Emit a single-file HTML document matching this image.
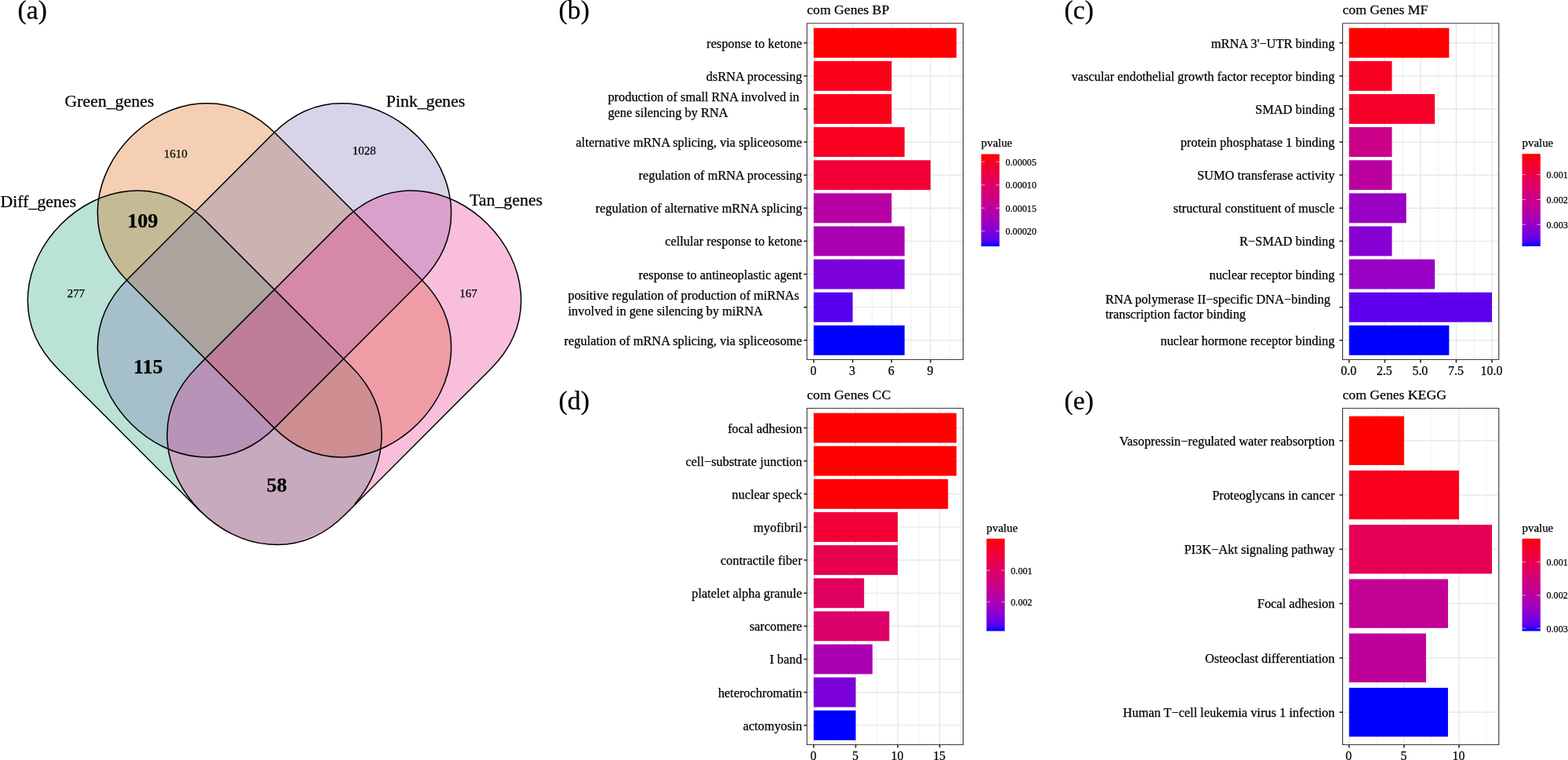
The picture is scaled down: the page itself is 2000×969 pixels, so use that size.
<!DOCTYPE html>
<html lang="en"><head><meta charset="utf-8"><title>Figure</title>
<style>
html,body{margin:0;padding:0;background:#fff;}
body{width:2000px;height:969px;overflow:hidden;}
svg{display:block;}
text{white-space:pre;stroke:#000;stroke-width:0.25px;}
</style></head><body>
<svg width="2000" height="969" viewBox="0 0 2000 969" font-family='"Liberation Serif", "DejaVu Serif", serif' stroke-linejoin="round">
<g>
<defs><clipPath id="cdf"><path d="M437.54 281.64 L251.74 467.44 C131.53 587.65 320.05 776.17 440.26 655.96 L626.06 470.16 C746.27 349.95 557.75 161.43 437.54 281.64 Z"/><path d="M-10 -10H710V640H-10Z"/><path d="M-10 640H256V720H-10Z"/><path d="M452 640H710V720H452Z"/></clipPath>
<clipPath id="cds"><path d="M-10 -10H710V640H-10Z"/><path d="M-10 640H256V720H-10Z"/><path d="M452 640H710V720H452Z"/></clipPath></defs>
<g clip-path="url(#cdf)"><path d="M262.46 281.64 L448.26 467.44 C568.47 587.65 379.95 776.17 259.74 655.96 L73.94 470.16 C-46.27 349.95 142.25 161.43 262.46 281.64 Z" fill="#1B9E77" fill-opacity="0.3"/></g>
<path d="M351.56 170.24 L536.96 355.84 C657.17 476.05 468.65 664.57 348.44 544.36 L163.04 358.76 C42.83 238.55 231.35 50.03 351.56 170.24 Z" fill="#D95F02" fill-opacity="0.3"/>
<path d="M348.44 170.24 L163.04 355.84 C42.83 476.05 231.35 664.57 351.56 544.36 L536.96 358.76 C657.17 238.55 468.65 50.03 348.44 170.24 Z" fill="#7570B3" fill-opacity="0.3"/>
<path d="M437.54 281.64 L251.74 467.44 C131.53 587.65 320.05 776.17 440.26 655.96 L626.06 470.16 C746.27 349.95 557.75 161.43 437.54 281.64 Z" fill="#E7298A" fill-opacity="0.3"/>
<g clip-path="url(#cds)"><path d="M262.46 281.64 L448.26 467.44 C568.47 587.65 379.95 776.17 259.74 655.96 L73.94 470.16 C-46.27 349.95 142.25 161.43 262.46 281.64 Z" fill="none" stroke="#000" stroke-width="1.5"/></g>
<path d="M351.56 170.24 L536.96 355.84 C657.17 476.05 468.65 664.57 348.44 544.36 L163.04 358.76 C42.83 238.55 231.35 50.03 351.56 170.24 Z" fill="none" stroke="#000" stroke-width="1.5"/>
<path d="M348.44 170.24 L163.04 355.84 C42.83 476.05 231.35 664.57 351.56 544.36 L536.96 358.76 C657.17 238.55 468.65 50.03 348.44 170.24 Z" fill="none" stroke="#000" stroke-width="1.5"/>
<path d="M437.54 281.64 L251.74 467.44 C131.53 587.65 320.05 776.17 440.26 655.96 L626.06 470.16 C746.27 349.95 557.75 161.43 437.54 281.64 Z" fill="none" stroke="#000" stroke-width="1.5"/>
</g>
<text x="82.50" y="136.00" font-size="21.85" text-anchor="start" fill="#000">Green_genes</text>
<text x="0.50" y="264.00" font-size="21.85" text-anchor="start" fill="#000">Diff_genes</text>
<text x="492.50" y="135.60" font-size="21.85" text-anchor="start" fill="#000">Pink_genes</text>
<text x="599.00" y="262.40" font-size="21.85" text-anchor="start" fill="#000">Tan_genes</text>
<text x="224.00" y="200.60" font-size="15.00" text-anchor="middle" fill="#000">1610</text>
<text x="464.60" y="197.40" font-size="15.00" text-anchor="middle" fill="#000">1028</text>
<text x="97.00" y="379.00" font-size="15.00" text-anchor="middle" fill="#000">277</text>
<text x="597.60" y="378.60" font-size="15.00" text-anchor="middle" fill="#000">167</text>
<text x="182.00" y="290.00" font-size="26.00" text-anchor="middle" font-weight="bold" fill="#000">109</text>
<text x="189.00" y="476.00" font-size="26.00" text-anchor="middle" font-weight="bold" fill="#000">115</text>
<text x="353.00" y="627.00" font-size="26.00" text-anchor="middle" font-weight="bold" fill="#000">58</text>
<text x="22.40" y="24.30" font-size="33.80" text-anchor="start" fill="#000">(a)</text>
<text x="712.60" y="24.30" font-size="33.80" text-anchor="start" fill="#000">(b)</text>
<text x="1357.60" y="24.30" font-size="33.80" text-anchor="start" fill="#000">(c)</text>
<text x="712.60" y="522.00" font-size="33.80" text-anchor="start" fill="#000">(d)</text>
<text x="1357.60" y="522.00" font-size="33.80" text-anchor="start" fill="#000">(e)</text>
<rect x="1029.25" y="29.75" width="199.25" height="428.75" fill="#fff"/>
<line x1="1062.73" y1="29.75" x2="1062.73" y2="458.50" stroke="#EEEEEE" stroke-width="0.9"/>
<line x1="1112.40" y1="29.75" x2="1112.40" y2="458.50" stroke="#EEEEEE" stroke-width="0.9"/>
<line x1="1162.06" y1="29.75" x2="1162.06" y2="458.50" stroke="#EEEEEE" stroke-width="0.9"/>
<line x1="1211.72" y1="29.75" x2="1211.72" y2="458.50" stroke="#EEEEEE" stroke-width="0.9"/>
<line x1="1037.90" y1="29.75" x2="1037.90" y2="458.50" stroke="#E4E4E4" stroke-width="1.2"/>
<line x1="1087.56" y1="29.75" x2="1087.56" y2="458.50" stroke="#E4E4E4" stroke-width="1.2"/>
<line x1="1137.23" y1="29.75" x2="1137.23" y2="458.50" stroke="#E4E4E4" stroke-width="1.2"/>
<line x1="1186.89" y1="29.75" x2="1186.89" y2="458.50" stroke="#E4E4E4" stroke-width="1.2"/>
<line x1="1029.25" y1="54.70" x2="1228.50" y2="54.70" stroke="#E4E4E4" stroke-width="1.2"/>
<line x1="1029.25" y1="96.83" x2="1228.50" y2="96.83" stroke="#E4E4E4" stroke-width="1.2"/>
<line x1="1029.25" y1="138.96" x2="1228.50" y2="138.96" stroke="#E4E4E4" stroke-width="1.2"/>
<line x1="1029.25" y1="181.09" x2="1228.50" y2="181.09" stroke="#E4E4E4" stroke-width="1.2"/>
<line x1="1029.25" y1="223.22" x2="1228.50" y2="223.22" stroke="#E4E4E4" stroke-width="1.2"/>
<line x1="1029.25" y1="265.35" x2="1228.50" y2="265.35" stroke="#E4E4E4" stroke-width="1.2"/>
<line x1="1029.25" y1="307.48" x2="1228.50" y2="307.48" stroke="#E4E4E4" stroke-width="1.2"/>
<line x1="1029.25" y1="349.61" x2="1228.50" y2="349.61" stroke="#E4E4E4" stroke-width="1.2"/>
<line x1="1029.25" y1="391.74" x2="1228.50" y2="391.74" stroke="#E4E4E4" stroke-width="1.2"/>
<line x1="1029.25" y1="433.87" x2="1228.50" y2="433.87" stroke="#E4E4E4" stroke-width="1.2"/>
<rect x="1037.90" y="35.74" width="182.10" height="37.92" fill="#FF0000"/>
<rect x="1037.90" y="77.87" width="99.33" height="37.92" fill="#FB001A"/>
<rect x="1037.90" y="120.00" width="99.33" height="37.92" fill="#FB001A"/>
<rect x="1037.90" y="162.13" width="115.88" height="37.92" fill="#F90021"/>
<rect x="1037.90" y="204.26" width="148.99" height="37.92" fill="#F20037"/>
<rect x="1037.90" y="246.39" width="99.33" height="37.92" fill="#B600A4"/>
<rect x="1037.90" y="288.52" width="115.88" height="37.92" fill="#AA00B2"/>
<rect x="1037.90" y="330.65" width="115.88" height="37.92" fill="#7C00DA"/>
<rect x="1037.90" y="372.78" width="49.66" height="37.92" fill="#5800EE"/>
<rect x="1037.90" y="414.91" width="115.88" height="37.92" fill="#0000FF"/>
<rect x="1029.25" y="29.75" width="199.25" height="428.75" fill="none" stroke="#3a3a3a" stroke-width="1.15"/>
<line x1="1037.90" y1="458.50" x2="1037.90" y2="462.50" stroke="#2a2a2a" stroke-width="1.6"/>
<text x="1037.40" y="477.50" font-size="15.90" text-anchor="middle" fill="#000">0</text>
<line x1="1087.56" y1="458.50" x2="1087.56" y2="462.50" stroke="#2a2a2a" stroke-width="1.6"/>
<text x="1087.06" y="477.50" font-size="15.90" text-anchor="middle" fill="#000">3</text>
<line x1="1137.23" y1="458.50" x2="1137.23" y2="462.50" stroke="#2a2a2a" stroke-width="1.6"/>
<text x="1136.73" y="477.50" font-size="15.90" text-anchor="middle" fill="#000">6</text>
<line x1="1186.89" y1="458.50" x2="1186.89" y2="462.50" stroke="#2a2a2a" stroke-width="1.6"/>
<text x="1186.39" y="477.50" font-size="15.90" text-anchor="middle" fill="#000">9</text>
<line x1="1025.25" y1="54.70" x2="1029.25" y2="54.70" stroke="#2a2a2a" stroke-width="1.6"/>
<text x="1023.10" y="60.60" font-size="16.38" text-anchor="end" fill="#000">response to ketone</text>
<line x1="1025.25" y1="96.83" x2="1029.25" y2="96.83" stroke="#2a2a2a" stroke-width="1.6"/>
<text x="1023.10" y="102.73" font-size="16.38" text-anchor="end" fill="#000">dsRNA processing</text>
<line x1="1025.25" y1="138.96" x2="1029.25" y2="138.96" stroke="#2a2a2a" stroke-width="1.6"/>
<text x="775.40" y="129.31" font-size="16.38" text-anchor="start" fill="#000">production of small RNA involved in</text>
<text x="775.40" y="148.81" font-size="16.38" text-anchor="start" fill="#000">gene silencing by RNA</text>
<line x1="1025.25" y1="181.09" x2="1029.25" y2="181.09" stroke="#2a2a2a" stroke-width="1.6"/>
<text x="1023.10" y="186.99" font-size="16.38" text-anchor="end" fill="#000">alternative mRNA splicing, via spliceosome</text>
<line x1="1025.25" y1="223.22" x2="1029.25" y2="223.22" stroke="#2a2a2a" stroke-width="1.6"/>
<text x="1023.10" y="229.12" font-size="16.38" text-anchor="end" fill="#000">regulation of mRNA processing</text>
<line x1="1025.25" y1="265.35" x2="1029.25" y2="265.35" stroke="#2a2a2a" stroke-width="1.6"/>
<text x="1023.10" y="271.25" font-size="16.38" text-anchor="end" fill="#000">regulation of alternative mRNA splicing</text>
<line x1="1025.25" y1="307.48" x2="1029.25" y2="307.48" stroke="#2a2a2a" stroke-width="1.6"/>
<text x="1023.10" y="313.38" font-size="16.38" text-anchor="end" fill="#000">cellular response to ketone</text>
<line x1="1025.25" y1="349.61" x2="1029.25" y2="349.61" stroke="#2a2a2a" stroke-width="1.6"/>
<text x="1023.10" y="355.51" font-size="16.38" text-anchor="end" fill="#000">response to antineoplastic agent</text>
<line x1="1025.25" y1="391.74" x2="1029.25" y2="391.74" stroke="#2a2a2a" stroke-width="1.6"/>
<text x="724.50" y="382.09" font-size="16.38" text-anchor="start" fill="#000">positive regulation of production of miRNAs</text>
<text x="724.50" y="401.59" font-size="16.38" text-anchor="start" fill="#000">involved in gene silencing by miRNA</text>
<line x1="1025.25" y1="433.87" x2="1029.25" y2="433.87" stroke="#2a2a2a" stroke-width="1.6"/>
<text x="1023.10" y="439.77" font-size="16.38" text-anchor="end" fill="#000">regulation of mRNA splicing, via spliceosome</text>
<text x="1029.25" y="17.85" font-size="17.67" text-anchor="start" fill="#000">com Genes BP</text>
<defs><linearGradient id="gb" x1="0" y1="0" x2="0" y2="1"><stop offset="0.000" stop-color="#FF0000"/><stop offset="0.050" stop-color="#FB001A"/><stop offset="0.100" stop-color="#F6002A"/><stop offset="0.150" stop-color="#F20037"/><stop offset="0.200" stop-color="#ED0044"/><stop offset="0.250" stop-color="#E80050"/><stop offset="0.300" stop-color="#E3005B"/><stop offset="0.350" stop-color="#DD0066"/><stop offset="0.400" stop-color="#D70072"/><stop offset="0.450" stop-color="#D1007D"/><stop offset="0.500" stop-color="#CA0088"/><stop offset="0.550" stop-color="#C20094"/><stop offset="0.600" stop-color="#BA009F"/><stop offset="0.650" stop-color="#B000AB"/><stop offset="0.700" stop-color="#A600B7"/><stop offset="0.750" stop-color="#9A00C3"/><stop offset="0.800" stop-color="#8D00CE"/><stop offset="0.850" stop-color="#7C00DA"/><stop offset="0.900" stop-color="#6800E7"/><stop offset="0.950" stop-color="#4B00F3"/><stop offset="1.000" stop-color="#0000FF"/></linearGradient></defs>
<rect x="1251.50" y="196.50" width="23.30" height="117.60" fill="url(#gb)"/>
<text x="1251.50" y="187.20" font-size="14.90" text-anchor="start" fill="#000">pvalue</text>
<line x1="1251.50" y1="206.20" x2="1256.16" y2="206.20" stroke="#fff" stroke-width="0.6"/>
<line x1="1270.14" y1="206.20" x2="1274.80" y2="206.20" stroke="#fff" stroke-width="0.6"/>
<text x="1282.50" y="210.60" font-size="12.15" text-anchor="start" fill="#000">0.00005</text>
<line x1="1251.50" y1="235.80" x2="1256.16" y2="235.80" stroke="#fff" stroke-width="0.6"/>
<line x1="1270.14" y1="235.80" x2="1274.80" y2="235.80" stroke="#fff" stroke-width="0.6"/>
<text x="1282.50" y="240.20" font-size="12.15" text-anchor="start" fill="#000">0.00010</text>
<line x1="1251.50" y1="265.20" x2="1256.16" y2="265.20" stroke="#fff" stroke-width="0.6"/>
<line x1="1270.14" y1="265.20" x2="1274.80" y2="265.20" stroke="#fff" stroke-width="0.6"/>
<text x="1282.50" y="269.60" font-size="12.15" text-anchor="start" fill="#000">0.00015</text>
<line x1="1251.50" y1="294.60" x2="1256.16" y2="294.60" stroke="#fff" stroke-width="0.6"/>
<line x1="1270.14" y1="294.60" x2="1274.80" y2="294.60" stroke="#fff" stroke-width="0.6"/>
<text x="1282.50" y="299.00" font-size="12.15" text-anchor="start" fill="#000">0.00020</text>
<rect x="1712.50" y="29.75" width="199.25" height="428.75" fill="#fff"/>
<line x1="1743.58" y1="29.75" x2="1743.58" y2="458.50" stroke="#EEEEEE" stroke-width="0.9"/>
<line x1="1789.12" y1="29.75" x2="1789.12" y2="458.50" stroke="#EEEEEE" stroke-width="0.9"/>
<line x1="1834.67" y1="29.75" x2="1834.67" y2="458.50" stroke="#EEEEEE" stroke-width="0.9"/>
<line x1="1880.22" y1="29.75" x2="1880.22" y2="458.50" stroke="#EEEEEE" stroke-width="0.9"/>
<line x1="1720.80" y1="29.75" x2="1720.80" y2="458.50" stroke="#E4E4E4" stroke-width="1.2"/>
<line x1="1766.35" y1="29.75" x2="1766.35" y2="458.50" stroke="#E4E4E4" stroke-width="1.2"/>
<line x1="1811.90" y1="29.75" x2="1811.90" y2="458.50" stroke="#E4E4E4" stroke-width="1.2"/>
<line x1="1857.45" y1="29.75" x2="1857.45" y2="458.50" stroke="#E4E4E4" stroke-width="1.2"/>
<line x1="1903.00" y1="29.75" x2="1903.00" y2="458.50" stroke="#E4E4E4" stroke-width="1.2"/>
<line x1="1712.50" y1="54.70" x2="1911.75" y2="54.70" stroke="#E4E4E4" stroke-width="1.2"/>
<line x1="1712.50" y1="96.83" x2="1911.75" y2="96.83" stroke="#E4E4E4" stroke-width="1.2"/>
<line x1="1712.50" y1="138.96" x2="1911.75" y2="138.96" stroke="#E4E4E4" stroke-width="1.2"/>
<line x1="1712.50" y1="181.09" x2="1911.75" y2="181.09" stroke="#E4E4E4" stroke-width="1.2"/>
<line x1="1712.50" y1="223.22" x2="1911.75" y2="223.22" stroke="#E4E4E4" stroke-width="1.2"/>
<line x1="1712.50" y1="265.35" x2="1911.75" y2="265.35" stroke="#E4E4E4" stroke-width="1.2"/>
<line x1="1712.50" y1="307.48" x2="1911.75" y2="307.48" stroke="#E4E4E4" stroke-width="1.2"/>
<line x1="1712.50" y1="349.61" x2="1911.75" y2="349.61" stroke="#E4E4E4" stroke-width="1.2"/>
<line x1="1712.50" y1="391.74" x2="1911.75" y2="391.74" stroke="#E4E4E4" stroke-width="1.2"/>
<line x1="1712.50" y1="433.87" x2="1911.75" y2="433.87" stroke="#E4E4E4" stroke-width="1.2"/>
<rect x="1720.80" y="35.74" width="127.54" height="37.92" fill="#FF0000"/>
<rect x="1720.80" y="77.87" width="54.66" height="37.92" fill="#F80024"/>
<rect x="1720.80" y="120.00" width="109.32" height="37.92" fill="#F6002A"/>
<rect x="1720.80" y="162.13" width="54.66" height="37.92" fill="#CA0088"/>
<rect x="1720.80" y="204.26" width="54.66" height="37.92" fill="#BA009F"/>
<rect x="1720.80" y="246.39" width="72.88" height="37.92" fill="#9A00C3"/>
<rect x="1720.80" y="288.52" width="54.66" height="37.92" fill="#8700D3"/>
<rect x="1720.80" y="330.65" width="109.32" height="37.92" fill="#9800C5"/>
<rect x="1720.80" y="372.78" width="182.20" height="37.92" fill="#5E00EB"/>
<rect x="1720.80" y="414.91" width="127.54" height="37.92" fill="#0000FF"/>
<rect x="1712.50" y="29.75" width="199.25" height="428.75" fill="none" stroke="#3a3a3a" stroke-width="1.15"/>
<line x1="1720.80" y1="458.50" x2="1720.80" y2="462.50" stroke="#2a2a2a" stroke-width="1.6"/>
<text x="1720.30" y="477.50" font-size="15.90" text-anchor="middle" fill="#000">0.0</text>
<line x1="1766.35" y1="458.50" x2="1766.35" y2="462.50" stroke="#2a2a2a" stroke-width="1.6"/>
<text x="1765.85" y="477.50" font-size="15.90" text-anchor="middle" fill="#000">2.5</text>
<line x1="1811.90" y1="458.50" x2="1811.90" y2="462.50" stroke="#2a2a2a" stroke-width="1.6"/>
<text x="1811.40" y="477.50" font-size="15.90" text-anchor="middle" fill="#000">5.0</text>
<line x1="1857.45" y1="458.50" x2="1857.45" y2="462.50" stroke="#2a2a2a" stroke-width="1.6"/>
<text x="1856.95" y="477.50" font-size="15.90" text-anchor="middle" fill="#000">7.5</text>
<line x1="1903.00" y1="458.50" x2="1903.00" y2="462.50" stroke="#2a2a2a" stroke-width="1.6"/>
<text x="1902.50" y="477.50" font-size="15.90" text-anchor="middle" fill="#000">10.0</text>
<line x1="1708.50" y1="54.70" x2="1712.50" y2="54.70" stroke="#2a2a2a" stroke-width="1.6"/>
<text x="1702.40" y="60.60" font-size="16.38" text-anchor="end" fill="#000">mRNA 3'−UTR binding</text>
<line x1="1708.50" y1="96.83" x2="1712.50" y2="96.83" stroke="#2a2a2a" stroke-width="1.6"/>
<text x="1702.40" y="102.73" font-size="16.38" text-anchor="end" fill="#000">vascular endothelial growth factor receptor binding</text>
<line x1="1708.50" y1="138.96" x2="1712.50" y2="138.96" stroke="#2a2a2a" stroke-width="1.6"/>
<text x="1702.40" y="144.86" font-size="16.38" text-anchor="end" fill="#000">SMAD binding</text>
<line x1="1708.50" y1="181.09" x2="1712.50" y2="181.09" stroke="#2a2a2a" stroke-width="1.6"/>
<text x="1702.40" y="186.99" font-size="16.38" text-anchor="end" fill="#000">protein phosphatase 1 binding</text>
<line x1="1708.50" y1="223.22" x2="1712.50" y2="223.22" stroke="#2a2a2a" stroke-width="1.6"/>
<text x="1702.40" y="229.12" font-size="16.38" text-anchor="end" fill="#000">SUMO transferase activity</text>
<line x1="1708.50" y1="265.35" x2="1712.50" y2="265.35" stroke="#2a2a2a" stroke-width="1.6"/>
<text x="1702.40" y="271.25" font-size="16.38" text-anchor="end" fill="#000">structural constituent of muscle</text>
<line x1="1708.50" y1="307.48" x2="1712.50" y2="307.48" stroke="#2a2a2a" stroke-width="1.6"/>
<text x="1702.40" y="313.38" font-size="16.38" text-anchor="end" fill="#000">R−SMAD binding</text>
<line x1="1708.50" y1="349.61" x2="1712.50" y2="349.61" stroke="#2a2a2a" stroke-width="1.6"/>
<text x="1702.40" y="355.51" font-size="16.38" text-anchor="end" fill="#000">nuclear receptor binding</text>
<line x1="1708.50" y1="391.74" x2="1712.50" y2="391.74" stroke="#2a2a2a" stroke-width="1.6"/>
<text x="1410.00" y="386.89" font-size="16.38" text-anchor="start" fill="#000">RNA polymerase II−specific DNA−binding</text>
<text x="1410.00" y="406.39" font-size="16.38" text-anchor="start" fill="#000">transcription factor binding</text>
<line x1="1708.50" y1="433.87" x2="1712.50" y2="433.87" stroke="#2a2a2a" stroke-width="1.6"/>
<text x="1702.40" y="439.77" font-size="16.38" text-anchor="end" fill="#000">nuclear hormone receptor binding</text>
<text x="1712.50" y="17.85" font-size="17.67" text-anchor="start" fill="#000">com Genes MF</text>
<defs><linearGradient id="gc" x1="0" y1="0" x2="0" y2="1"><stop offset="0.000" stop-color="#FF0000"/><stop offset="0.050" stop-color="#FB001A"/><stop offset="0.100" stop-color="#F6002A"/><stop offset="0.150" stop-color="#F20037"/><stop offset="0.200" stop-color="#ED0044"/><stop offset="0.250" stop-color="#E80050"/><stop offset="0.300" stop-color="#E3005B"/><stop offset="0.350" stop-color="#DD0066"/><stop offset="0.400" stop-color="#D70072"/><stop offset="0.450" stop-color="#D1007D"/><stop offset="0.500" stop-color="#CA0088"/><stop offset="0.550" stop-color="#C20094"/><stop offset="0.600" stop-color="#BA009F"/><stop offset="0.650" stop-color="#B000AB"/><stop offset="0.700" stop-color="#A600B7"/><stop offset="0.750" stop-color="#9A00C3"/><stop offset="0.800" stop-color="#8D00CE"/><stop offset="0.850" stop-color="#7C00DA"/><stop offset="0.900" stop-color="#6800E7"/><stop offset="0.950" stop-color="#4B00F3"/><stop offset="1.000" stop-color="#0000FF"/></linearGradient></defs>
<rect x="1941.50" y="196.20" width="23.30" height="117.80" fill="url(#gc)"/>
<text x="1941.50" y="186.90" font-size="14.90" text-anchor="start" fill="#000">pvalue</text>
<line x1="1941.50" y1="222.60" x2="1946.16" y2="222.60" stroke="#fff" stroke-width="0.6"/>
<line x1="1960.14" y1="222.60" x2="1964.80" y2="222.60" stroke="#fff" stroke-width="0.6"/>
<text x="1972.50" y="227.00" font-size="12.15" text-anchor="start" fill="#000">0.001</text>
<line x1="1941.50" y1="254.50" x2="1946.16" y2="254.50" stroke="#fff" stroke-width="0.6"/>
<line x1="1960.14" y1="254.50" x2="1964.80" y2="254.50" stroke="#fff" stroke-width="0.6"/>
<text x="1972.50" y="258.90" font-size="12.15" text-anchor="start" fill="#000">0.002</text>
<line x1="1941.50" y1="286.30" x2="1946.16" y2="286.30" stroke="#fff" stroke-width="0.6"/>
<line x1="1960.14" y1="286.30" x2="1964.80" y2="286.30" stroke="#fff" stroke-width="0.6"/>
<text x="1972.50" y="290.70" font-size="12.15" text-anchor="start" fill="#000">0.003</text>
<rect x="1029.25" y="520.50" width="199.25" height="429.00" fill="#fff"/>
<line x1="1064.68" y1="520.50" x2="1064.68" y2="949.50" stroke="#EEEEEE" stroke-width="0.9"/>
<line x1="1118.24" y1="520.50" x2="1118.24" y2="949.50" stroke="#EEEEEE" stroke-width="0.9"/>
<line x1="1171.80" y1="520.50" x2="1171.80" y2="949.50" stroke="#EEEEEE" stroke-width="0.9"/>
<line x1="1225.36" y1="520.50" x2="1225.36" y2="949.50" stroke="#EEEEEE" stroke-width="0.9"/>
<line x1="1037.90" y1="520.50" x2="1037.90" y2="949.50" stroke="#E4E4E4" stroke-width="1.2"/>
<line x1="1091.46" y1="520.50" x2="1091.46" y2="949.50" stroke="#E4E4E4" stroke-width="1.2"/>
<line x1="1145.02" y1="520.50" x2="1145.02" y2="949.50" stroke="#E4E4E4" stroke-width="1.2"/>
<line x1="1198.58" y1="520.50" x2="1198.58" y2="949.50" stroke="#E4E4E4" stroke-width="1.2"/>
<line x1="1029.25" y1="545.60" x2="1228.50" y2="545.60" stroke="#E4E4E4" stroke-width="1.2"/>
<line x1="1029.25" y1="587.73" x2="1228.50" y2="587.73" stroke="#E4E4E4" stroke-width="1.2"/>
<line x1="1029.25" y1="629.86" x2="1228.50" y2="629.86" stroke="#E4E4E4" stroke-width="1.2"/>
<line x1="1029.25" y1="671.99" x2="1228.50" y2="671.99" stroke="#E4E4E4" stroke-width="1.2"/>
<line x1="1029.25" y1="714.12" x2="1228.50" y2="714.12" stroke="#E4E4E4" stroke-width="1.2"/>
<line x1="1029.25" y1="756.25" x2="1228.50" y2="756.25" stroke="#E4E4E4" stroke-width="1.2"/>
<line x1="1029.25" y1="798.38" x2="1228.50" y2="798.38" stroke="#E4E4E4" stroke-width="1.2"/>
<line x1="1029.25" y1="840.51" x2="1228.50" y2="840.51" stroke="#E4E4E4" stroke-width="1.2"/>
<line x1="1029.25" y1="882.64" x2="1228.50" y2="882.64" stroke="#E4E4E4" stroke-width="1.2"/>
<line x1="1029.25" y1="924.77" x2="1228.50" y2="924.77" stroke="#E4E4E4" stroke-width="1.2"/>
<rect x="1037.90" y="526.64" width="182.10" height="37.92" fill="#FF0000"/>
<rect x="1037.90" y="568.77" width="182.10" height="37.92" fill="#FF0000"/>
<rect x="1037.90" y="610.90" width="171.39" height="37.92" fill="#FE0006"/>
<rect x="1037.90" y="653.03" width="107.12" height="37.92" fill="#F20037"/>
<rect x="1037.90" y="695.16" width="107.12" height="37.92" fill="#E80050"/>
<rect x="1037.90" y="737.29" width="64.27" height="37.92" fill="#E00060"/>
<rect x="1037.90" y="779.42" width="96.41" height="37.92" fill="#DC0069"/>
<rect x="1037.90" y="821.55" width="74.98" height="37.92" fill="#AA00B2"/>
<rect x="1037.90" y="863.68" width="53.56" height="37.92" fill="#7C00DA"/>
<rect x="1037.90" y="905.81" width="53.56" height="37.92" fill="#0000FF"/>
<rect x="1029.25" y="520.50" width="199.25" height="429.00" fill="none" stroke="#3a3a3a" stroke-width="1.15"/>
<line x1="1037.90" y1="949.50" x2="1037.90" y2="953.50" stroke="#2a2a2a" stroke-width="1.6"/>
<text x="1037.40" y="968.50" font-size="15.90" text-anchor="middle" fill="#000">0</text>
<line x1="1091.46" y1="949.50" x2="1091.46" y2="953.50" stroke="#2a2a2a" stroke-width="1.6"/>
<text x="1090.96" y="968.50" font-size="15.90" text-anchor="middle" fill="#000">5</text>
<line x1="1145.02" y1="949.50" x2="1145.02" y2="953.50" stroke="#2a2a2a" stroke-width="1.6"/>
<text x="1144.52" y="968.50" font-size="15.90" text-anchor="middle" fill="#000">10</text>
<line x1="1198.58" y1="949.50" x2="1198.58" y2="953.50" stroke="#2a2a2a" stroke-width="1.6"/>
<text x="1198.08" y="968.50" font-size="15.90" text-anchor="middle" fill="#000">15</text>
<line x1="1025.25" y1="545.60" x2="1029.25" y2="545.60" stroke="#2a2a2a" stroke-width="1.6"/>
<text x="1023.10" y="551.50" font-size="16.38" text-anchor="end" fill="#000">focal adhesion</text>
<line x1="1025.25" y1="587.73" x2="1029.25" y2="587.73" stroke="#2a2a2a" stroke-width="1.6"/>
<text x="1023.10" y="593.63" font-size="16.38" text-anchor="end" fill="#000">cell−substrate junction</text>
<line x1="1025.25" y1="629.86" x2="1029.25" y2="629.86" stroke="#2a2a2a" stroke-width="1.6"/>
<text x="1023.10" y="635.76" font-size="16.38" text-anchor="end" fill="#000">nuclear speck</text>
<line x1="1025.25" y1="671.99" x2="1029.25" y2="671.99" stroke="#2a2a2a" stroke-width="1.6"/>
<text x="1023.10" y="677.89" font-size="16.38" text-anchor="end" fill="#000">myofibril</text>
<line x1="1025.25" y1="714.12" x2="1029.25" y2="714.12" stroke="#2a2a2a" stroke-width="1.6"/>
<text x="1023.10" y="720.02" font-size="16.38" text-anchor="end" fill="#000">contractile fiber</text>
<line x1="1025.25" y1="756.25" x2="1029.25" y2="756.25" stroke="#2a2a2a" stroke-width="1.6"/>
<text x="1023.10" y="762.15" font-size="16.38" text-anchor="end" fill="#000">platelet alpha granule</text>
<line x1="1025.25" y1="798.38" x2="1029.25" y2="798.38" stroke="#2a2a2a" stroke-width="1.6"/>
<text x="1023.10" y="804.28" font-size="16.38" text-anchor="end" fill="#000">sarcomere</text>
<line x1="1025.25" y1="840.51" x2="1029.25" y2="840.51" stroke="#2a2a2a" stroke-width="1.6"/>
<text x="1023.10" y="846.41" font-size="16.38" text-anchor="end" fill="#000">I band</text>
<line x1="1025.25" y1="882.64" x2="1029.25" y2="882.64" stroke="#2a2a2a" stroke-width="1.6"/>
<text x="1023.10" y="888.54" font-size="16.38" text-anchor="end" fill="#000">heterochromatin</text>
<line x1="1025.25" y1="924.77" x2="1029.25" y2="924.77" stroke="#2a2a2a" stroke-width="1.6"/>
<text x="1023.10" y="930.67" font-size="16.38" text-anchor="end" fill="#000">actomyosin</text>
<text x="1029.25" y="508.60" font-size="17.67" text-anchor="start" fill="#000">com Genes CC</text>
<defs><linearGradient id="gd" x1="0" y1="0" x2="0" y2="1"><stop offset="0.000" stop-color="#FF0000"/><stop offset="0.050" stop-color="#FB001A"/><stop offset="0.100" stop-color="#F6002A"/><stop offset="0.150" stop-color="#F20037"/><stop offset="0.200" stop-color="#ED0044"/><stop offset="0.250" stop-color="#E80050"/><stop offset="0.300" stop-color="#E3005B"/><stop offset="0.350" stop-color="#DD0066"/><stop offset="0.400" stop-color="#D70072"/><stop offset="0.450" stop-color="#D1007D"/><stop offset="0.500" stop-color="#CA0088"/><stop offset="0.550" stop-color="#C20094"/><stop offset="0.600" stop-color="#BA009F"/><stop offset="0.650" stop-color="#B000AB"/><stop offset="0.700" stop-color="#A600B7"/><stop offset="0.750" stop-color="#9A00C3"/><stop offset="0.800" stop-color="#8D00CE"/><stop offset="0.850" stop-color="#7C00DA"/><stop offset="0.900" stop-color="#6800E7"/><stop offset="0.950" stop-color="#4B00F3"/><stop offset="1.000" stop-color="#0000FF"/></linearGradient></defs>
<rect x="1258.30" y="686.80" width="23.30" height="117.80" fill="url(#gd)"/>
<text x="1258.30" y="677.50" font-size="14.90" text-anchor="start" fill="#000">pvalue</text>
<line x1="1258.30" y1="727.20" x2="1262.96" y2="727.20" stroke="#fff" stroke-width="0.6"/>
<line x1="1276.94" y1="727.20" x2="1281.60" y2="727.20" stroke="#fff" stroke-width="0.6"/>
<text x="1289.30" y="731.60" font-size="12.15" text-anchor="start" fill="#000">0.001</text>
<line x1="1258.30" y1="767.20" x2="1262.96" y2="767.20" stroke="#fff" stroke-width="0.6"/>
<line x1="1276.94" y1="767.20" x2="1281.60" y2="767.20" stroke="#fff" stroke-width="0.6"/>
<text x="1289.30" y="771.60" font-size="12.15" text-anchor="start" fill="#000">0.002</text>
<rect x="1712.50" y="520.50" width="199.25" height="429.00" fill="#fff"/>
<line x1="1755.84" y1="520.50" x2="1755.84" y2="949.50" stroke="#EEEEEE" stroke-width="0.9"/>
<line x1="1825.92" y1="520.50" x2="1825.92" y2="949.50" stroke="#EEEEEE" stroke-width="0.9"/>
<line x1="1895.99" y1="520.50" x2="1895.99" y2="949.50" stroke="#EEEEEE" stroke-width="0.9"/>
<line x1="1720.80" y1="520.50" x2="1720.80" y2="949.50" stroke="#E4E4E4" stroke-width="1.2"/>
<line x1="1790.88" y1="520.50" x2="1790.88" y2="949.50" stroke="#E4E4E4" stroke-width="1.2"/>
<line x1="1860.95" y1="520.50" x2="1860.95" y2="949.50" stroke="#E4E4E4" stroke-width="1.2"/>
<line x1="1712.50" y1="561.80" x2="1911.75" y2="561.80" stroke="#E4E4E4" stroke-width="1.2"/>
<line x1="1712.50" y1="631.06" x2="1911.75" y2="631.06" stroke="#E4E4E4" stroke-width="1.2"/>
<line x1="1712.50" y1="700.32" x2="1911.75" y2="700.32" stroke="#E4E4E4" stroke-width="1.2"/>
<line x1="1712.50" y1="769.58" x2="1911.75" y2="769.58" stroke="#E4E4E4" stroke-width="1.2"/>
<line x1="1712.50" y1="838.84" x2="1911.75" y2="838.84" stroke="#E4E4E4" stroke-width="1.2"/>
<line x1="1712.50" y1="908.10" x2="1911.75" y2="908.10" stroke="#E4E4E4" stroke-width="1.2"/>
<rect x="1720.80" y="530.63" width="70.08" height="62.33" fill="#FF0000"/>
<rect x="1720.80" y="599.89" width="140.15" height="62.33" fill="#FA001E"/>
<rect x="1720.80" y="669.15" width="182.20" height="62.33" fill="#E50056"/>
<rect x="1720.80" y="738.41" width="126.14" height="62.33" fill="#C20094"/>
<rect x="1720.80" y="807.67" width="98.11" height="62.33" fill="#BD009B"/>
<rect x="1720.80" y="876.93" width="126.14" height="62.33" fill="#0000FF"/>
<rect x="1712.50" y="520.50" width="199.25" height="429.00" fill="none" stroke="#3a3a3a" stroke-width="1.15"/>
<line x1="1720.80" y1="949.50" x2="1720.80" y2="953.50" stroke="#2a2a2a" stroke-width="1.6"/>
<text x="1720.30" y="968.50" font-size="15.90" text-anchor="middle" fill="#000">0</text>
<line x1="1790.88" y1="949.50" x2="1790.88" y2="953.50" stroke="#2a2a2a" stroke-width="1.6"/>
<text x="1790.38" y="968.50" font-size="15.90" text-anchor="middle" fill="#000">5</text>
<line x1="1860.95" y1="949.50" x2="1860.95" y2="953.50" stroke="#2a2a2a" stroke-width="1.6"/>
<text x="1860.45" y="968.50" font-size="15.90" text-anchor="middle" fill="#000">10</text>
<line x1="1708.50" y1="561.80" x2="1712.50" y2="561.80" stroke="#2a2a2a" stroke-width="1.6"/>
<text x="1702.40" y="567.70" font-size="16.38" text-anchor="end" fill="#000">Vasopressin−regulated water reabsorption</text>
<line x1="1708.50" y1="631.06" x2="1712.50" y2="631.06" stroke="#2a2a2a" stroke-width="1.6"/>
<text x="1702.40" y="636.96" font-size="16.38" text-anchor="end" fill="#000">Proteoglycans in cancer</text>
<line x1="1708.50" y1="700.32" x2="1712.50" y2="700.32" stroke="#2a2a2a" stroke-width="1.6"/>
<text x="1702.40" y="706.22" font-size="16.38" text-anchor="end" fill="#000">PI3K−Akt signaling pathway</text>
<line x1="1708.50" y1="769.58" x2="1712.50" y2="769.58" stroke="#2a2a2a" stroke-width="1.6"/>
<text x="1702.40" y="775.48" font-size="16.38" text-anchor="end" fill="#000">Focal adhesion</text>
<line x1="1708.50" y1="838.84" x2="1712.50" y2="838.84" stroke="#2a2a2a" stroke-width="1.6"/>
<text x="1702.40" y="844.74" font-size="16.38" text-anchor="end" fill="#000">Osteoclast differentiation</text>
<line x1="1708.50" y1="908.10" x2="1712.50" y2="908.10" stroke="#2a2a2a" stroke-width="1.6"/>
<text x="1702.40" y="914.00" font-size="16.38" text-anchor="end" fill="#000">Human T−cell leukemia virus 1 infection</text>
<text x="1712.50" y="508.60" font-size="17.67" text-anchor="start" fill="#000">com Genes KEGG</text>
<defs><linearGradient id="ge" x1="0" y1="0" x2="0" y2="1"><stop offset="0.000" stop-color="#FF0000"/><stop offset="0.050" stop-color="#FB001A"/><stop offset="0.100" stop-color="#F6002A"/><stop offset="0.150" stop-color="#F20037"/><stop offset="0.200" stop-color="#ED0044"/><stop offset="0.250" stop-color="#E80050"/><stop offset="0.300" stop-color="#E3005B"/><stop offset="0.350" stop-color="#DD0066"/><stop offset="0.400" stop-color="#D70072"/><stop offset="0.450" stop-color="#D1007D"/><stop offset="0.500" stop-color="#CA0088"/><stop offset="0.550" stop-color="#C20094"/><stop offset="0.600" stop-color="#BA009F"/><stop offset="0.650" stop-color="#B000AB"/><stop offset="0.700" stop-color="#A600B7"/><stop offset="0.750" stop-color="#9A00C3"/><stop offset="0.800" stop-color="#8D00CE"/><stop offset="0.850" stop-color="#7C00DA"/><stop offset="0.900" stop-color="#6800E7"/><stop offset="0.950" stop-color="#4B00F3"/><stop offset="1.000" stop-color="#0000FF"/></linearGradient></defs>
<rect x="1941.50" y="686.80" width="23.30" height="117.80" fill="url(#ge)"/>
<text x="1941.50" y="677.50" font-size="14.90" text-anchor="start" fill="#000">pvalue</text>
<line x1="1941.50" y1="716.50" x2="1946.16" y2="716.50" stroke="#fff" stroke-width="0.6"/>
<line x1="1960.14" y1="716.50" x2="1964.80" y2="716.50" stroke="#fff" stroke-width="0.6"/>
<text x="1972.50" y="720.90" font-size="12.15" text-anchor="start" fill="#000">0.001</text>
<line x1="1941.50" y1="759.00" x2="1946.16" y2="759.00" stroke="#fff" stroke-width="0.6"/>
<line x1="1960.14" y1="759.00" x2="1964.80" y2="759.00" stroke="#fff" stroke-width="0.6"/>
<text x="1972.50" y="763.40" font-size="12.15" text-anchor="start" fill="#000">0.002</text>
<line x1="1941.50" y1="801.20" x2="1946.16" y2="801.20" stroke="#fff" stroke-width="0.6"/>
<line x1="1960.14" y1="801.20" x2="1964.80" y2="801.20" stroke="#fff" stroke-width="0.6"/>
<text x="1972.50" y="805.60" font-size="12.15" text-anchor="start" fill="#000">0.003</text>
</svg>
</body></html>
